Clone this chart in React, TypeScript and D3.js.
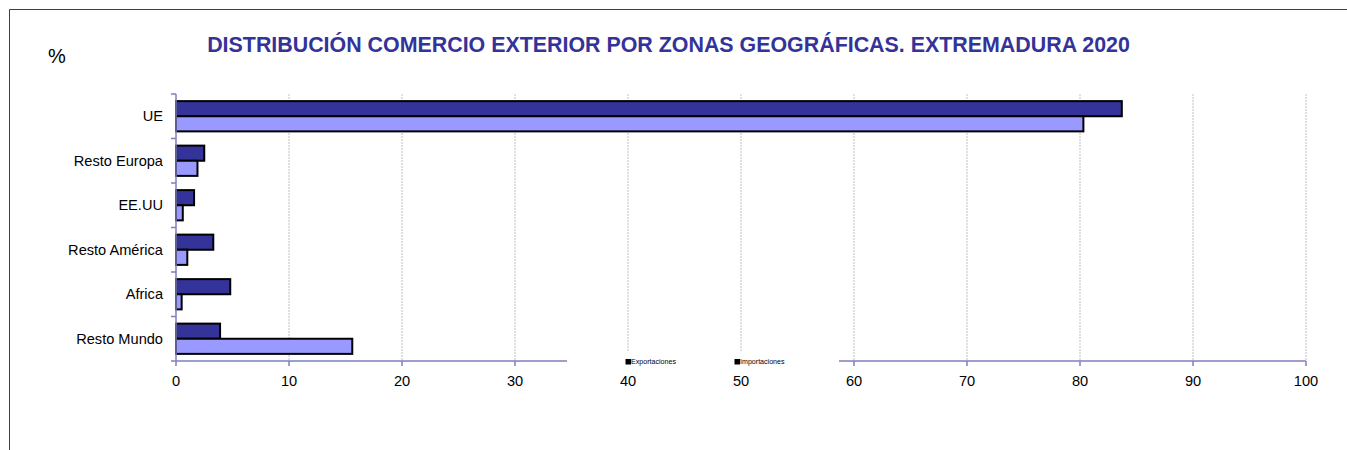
import React from "react";
import * as d3 from "d3";

const categories = ["UE", "Resto Europa", "EE.UU", "Resto América", "Africa", "Resto Mundo"];
const exportaciones = [83.7, 2.5, 1.6, 3.3, 4.8, 3.9];
const importaciones = [80.3, 1.9, 0.6, 1.0, 0.5, 15.6];
const xTicks = [0, 10, 20, 30, 40, 50, 60, 70, 80, 90, 100];
const seriesNames = ["Exportaciones", "Importaciones"];
const title = "DISTRIBUCIÓN COMERCIO EXTERIOR POR ZONAS GEOGRÁFICAS. EXTREMADURA 2020";

export default function App() {
  const W = 1347, H = 450;
  const left = 176, right = 1306, top = 94, bottom = 361;
  const x = d3.scaleLinear().domain([0, 100]).range([left, right]);
  const y = d3.scaleBand().domain(categories).range([top, bottom]).paddingInner(0.32).paddingOuter(0.16);
  const inner = d3.scaleBand().domain(seriesNames).range([0, y.bandwidth()]);
  const font = "Arial, 'Liberation Sans', sans-serif";
  const axisColor = "#7F7FBF";
  const series = [
    { name: seriesNames[0], values: exportaciones, color: "#333399" },
    { name: seriesNames[1], values: importaciones, color: "#9999FF" },
  ];
  const bandStep = (bottom - top) / categories.length;
  return (
    <svg width={W} height={H} style={{ position: "absolute", left: 0, top: 0 }} fontFamily={font}>
      <rect x={0} y={0} width={W} height={H} fill="#fff" />
      <line x1={9.5} y1={9.5} x2={W} y2={9.5} stroke="#333399" strokeWidth={1} />
      <line x1={9.5} y1={9.5} x2={9.5} y2={H} stroke="#333399" strokeWidth={1} />
      <text x={668.5} y={52} textAnchor="middle" fontSize={21.4} fontWeight="bold" fill="#333399">{title}</text>
      <text x={48} y={63} fontSize={20} fill="#000">%</text>
      {xTicks.slice(1).map((t) => (
        <line key={"g" + t} x1={x(t)} x2={x(t)} y1={top} y2={bottom} stroke="#BFBFBF" strokeWidth={1} strokeDasharray="2,1" />
      ))}
      {categories.map((c, i) =>
        series.map((s) => (
          <rect
            key={c + s.name}
            x={x(0)}
            y={(y(c) as number) + (inner(s.name) as number)}
            width={x(s.values[i]) - x(0)}
            height={inner.bandwidth()}
            fill={s.color}
            stroke="#000"
            strokeWidth={2}
          />
        ))
      )}
      <line x1={left} x2={left} y1={top} y2={bottom} stroke={axisColor} strokeWidth={1.5} />
      {d3.range(categories.length + 1).map((i) => (
        <line key={"yt" + i} x1={left - 5} x2={left} y1={top + i * bandStep} y2={top + i * bandStep} stroke={axisColor} strokeWidth={1.5} />
      ))}
      <line x1={left} x2={right} y1={bottom} y2={bottom} stroke={axisColor} strokeWidth={1.5} />
      {xTicks.map((t) => (
        <line key={"xt" + t} x1={x(t)} x2={x(t)} y1={bottom} y2={bottom + 5} stroke={axisColor} strokeWidth={1.5} />
      ))}
      {categories.map((c) => (
        <text key={"l" + c} x={163} y={(top + (categories.indexOf(c) + 0.5) * bandStep) + 5} textAnchor="end" fontSize={14.6} fill="#000">{c}</text>
      ))}
      {xTicks.map((t) => (
        <text key={"xl" + t} x={x(t)} y={386} textAnchor="middle" fontSize={14.6} fill="#000">{t}</text>
      ))}
      <rect x={567} y={352} width={272} height={16} fill="#fff" />
      {series.map((s, i) => (
        <g key={"lg" + s.name} transform={`translate(${626 + i * 109},364)`}>
          <rect x={0} y={-4.5} width={4.5} height={4.5} fill="#000" stroke="#000" strokeWidth={1} />
          <text x={5} y={0} fontSize={7.1} fill="#000">{s.name}</text>
        </g>
      ))}
    </svg>
  );
}
